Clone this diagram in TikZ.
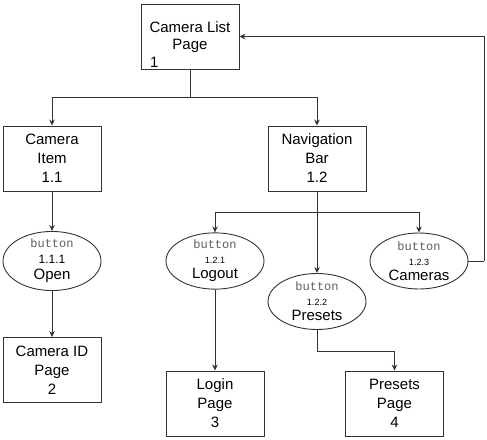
\documentclass[tikz,border=0pt]{standalone}
\usepackage{fontspec}
\setmainfont{Liberation Sans}
\setmonofont{Liberation Mono}
\usetikzlibrary{shapes.geometric,arrows.meta}
\definecolor{linec}{HTML}{333333}
\definecolor{btngray}{HTML}{5E5E5E}
\newcommand{\btn}{{\fontsize{12}{12}\ttfamily\color{btngray}button}}
\begin{document}
\begin{tikzpicture}[x=1pt,y=-1pt,
  pagebox/.style={draw=linec, line width=0.9pt, rectangle, minimum width=98pt, minimum height=65pt,
    inner sep=0pt, align=center, font=\fontsize{15}{19}\selectfont},
  btnnode/.style={draw=linec, line width=0.9pt, ellipse, minimum width=98pt, minimum height=56pt,
    inner xsep=0pt, inner ysep=-1pt, align=center, font=\fontsize{15}{15}\selectfont},
  arr/.style={draw=linec, line width=0.9pt, -{Stealth[length=6pt,width=5.5pt]}},
  ln/.style={draw=linec, line width=0.9pt}]
\useasboundingbox (0,0) rectangle (487,439);

\node[draw=linec, line width=0.9pt, inner sep=0pt] (cl) at (190,36.5)
  {\parbox[c][65pt][b]{98pt}{\fontsize{15}{17.5}\selectfont\centering Camera List\\Page\par
   \raggedright\hspace*{9pt}1\par\vspace{1.6pt}}};

\node[pagebox] (ci) at (52,158.5) {Camera\\Item\\1.1};
\node[pagebox] (nb) at (317,158.5) {Navigation\\Bar\\1.2};

\node[btnnode, font=\fontsize{15}{16}\selectfont] (op) at (52,261) {\btn\\{\fontsize{12}{12}\selectfont 1.1.1}\\Open};
\node[btnnode] (lo) at (215,261) {\btn\\{\fontsize{9}{9}\selectfont 1.2.1}\\Logout};
\node[btnnode] (pr) at (317,301.5) {\btn\\{\fontsize{9}{9}\selectfont 1.2.2}\\Presets};
\node[btnnode] (ca) at (419,261) {\btn\\{\fontsize{9}{9}\selectfont 1.2.3}\\Cameras};

\node[pagebox] (cid) at (52,370) {Camera ID\\Page\\2};
\node[pagebox] (lp) at (215,403.5) {Login\\Page\\3};
\node[pagebox] (pp) at (394.5,403.5) {Presets\\Page\\4};

\coordinate (j1) at (190,97.5);
\coordinate (j2) at (317,212);
\coordinate (j3) at (317,351);
\coordinate (j4) at (484,261);

\draw[ln] (cl.south) -- (j1);
\draw[arr] (j1) -| (ci.north);
\draw[arr] (j1) -| (nb.north);
\draw[arr] (ci) -- (op);
\draw[arr] (op) -- (cid);
\draw[arr] (nb) -- (pr);
\draw[arr] (j2) -| (lo.north);
\draw[arr] (j2) -| (ca.north);
\draw[arr] (lo) -- (lp);
\draw[ln] (pr.south) -- (j3);
\draw[arr] (j3) -| (pp.north);
\draw[ln] (ca.east) -- (j4);
\draw[arr] (j4) |- (cl.east);
\end{tikzpicture}
\end{document}
